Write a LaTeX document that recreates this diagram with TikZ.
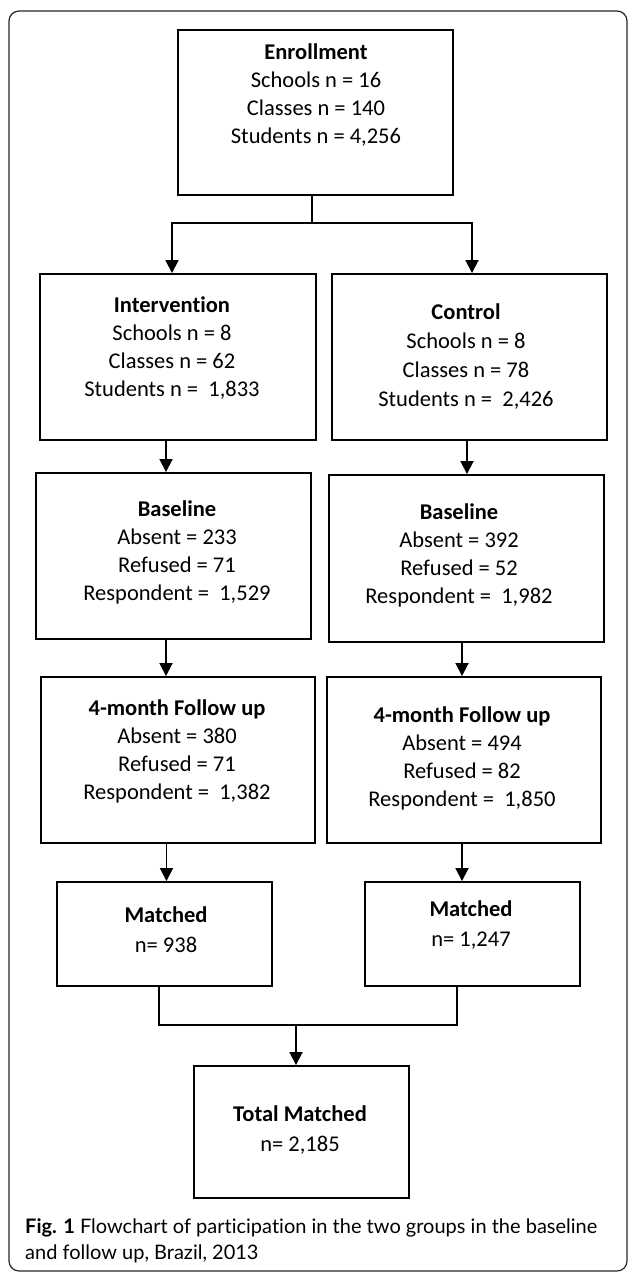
\documentclass[tikz,border=0pt]{standalone}
\usepackage{fontspec}
\setmainfont[Ligatures=NoCommon]{Carlito}
\newfontfamily\capfont[Ligatures=NoCommon]{Lato}
\usetikzlibrary{arrows.meta}
\begin{document}
\begin{tikzpicture}[x=1pt,y=-1pt,
  box/.style={draw, line width=1.9pt, inner sep=0pt},
  txt/.style={align=center, inner sep=0pt, font=\fontsize{22.5}{28}\selectfont},
  txtw/.style={align=center, inner sep=0pt, font=\fontsize{22.5}{29}\selectfont},
  txtm/.style={align=center, inner sep=0pt, font=\fontsize{22.5}{30}\selectfont},
  conn/.style={line width=1.8pt},
  arr/.style={line width=1.8pt, -{Triangle[width=13pt,length=13pt]}},
  captxt/.style={anchor=base west, inner sep=0pt, font=\capfont\fontsize{20}{26}\selectfont}]
\useasboundingbox (0,0) rectangle (630,1273);
% outer frame
\draw[line width=1.2pt, rounded corners=10pt, black!85] (9,11) rectangle (627,1271);
% boxes
\node[box, minimum width=275pt, minimum height=165pt] (enr) at (315.5,112.5) {};
\node[box, minimum width=276pt, minimum height=166pt] (int) at (178,357) {};
\node[box, minimum width=275pt, minimum height=166pt] (ctl) at (469.5,357) {};
\node[box, minimum width=275pt, minimum height=166pt] (bli) at (173.5,556) {};
\node[box, minimum width=275pt, minimum height=167pt] (blc) at (466.5,558.5) {};
\node[box, minimum width=274pt, minimum height=166pt] (fui) at (178,760) {};
\node[box, minimum width=274pt, minimum height=166pt] (fuc) at (464,760) {};
\node[box, minimum width=215pt, minimum height=104pt] (mti) at (164.5,934) {};
\node[box, minimum width=215pt, minimum height=104pt] (mtc) at (472.5,934) {};
\node[box, minimum width=215pt, minimum height=132pt] (tot) at (301.5,1132) {};
% texts
\node[txt] (enrT) at (316,95) {\textbf{Enrollment}\\Schools n = 16\\Classes n = 140\\Students n = 4,256};
\node[txt] (intT) at (172,348.5) {\textbf{Intervention}\\Schools n = 8\\Classes n = 62\\Students n =\ \ 1,833};
\node[txtw] (ctlT) at (466,356.5) {\textbf{Control}\\Schools n = 8\\Classes n = 78\\Students n =\ \ 2,426};
\node[txt] (bliT) at (177,552.5) {\textbf{Baseline}\\Absent = 233\\Refused = 71\\Respondent =\ \ 1,529};
\node[txt] (blcT) at (459,555) {\textbf{Baseline}\\Absent = 392\\Refused = 52\\Respondent =\ \ 1,982};
\node[txt] (fuiT) at (177,751.5) {\textbf{4-month Follow up}\\Absent = 380\\Refused = 71\\Respondent =\ \ 1,382};
\node[txt] (fucT) at (462,758.5) {\textbf{4-month Follow up}\\Absent = 494\\Refused = 82\\Respondent =\ \ 1,850};
\node[txtm] (mtiT) at (166,930) {\textbf{Matched}\\n= 938};
\node[txtm] (mtcT) at (471,925) {\textbf{Matched}\\n= 1,247};
\node[txtm] (totT) at (300,1130) {\textbf{Total Matched}\\n= 2,185};
% connector coordinates
\coordinate (j1) at (312,223);
\coordinate (jl) at (172,223);
\coordinate (jr) at (472,223);
\coordinate (aL1) at (166,0);
\coordinate (aR1) at (467,0);
\coordinate (aL2) at (166,0);
\coordinate (aR2) at (462,0);
\coordinate (aL3) at (166.5,0);
\coordinate (aR3) at (462,0);
\coordinate (bl) at (159,0);
\coordinate (br) at (457,0);
\coordinate (j2) at (296,1025);
% connectors
\draw[conn] (enr.south -| j1) -- (j1);
\draw[arr] (j1) -| (int.north -| jl);
\draw[arr] (j1) -| (ctl.north -| jr);
\draw[arr] (int.south -| aL1) -- (bli.north -| aL1);
\draw[arr] (ctl.south -| aR1) -- (blc.north -| aR1);
\draw[arr] (bli.south -| aL2) -- (fui.north -| aL2);
\draw[arr] (blc.south -| aR2) -- (fuc.north -| aR2);
\draw[arr] (fui.south -| aL3) -- (mti.north -| aL3);
\draw[arr] (fuc.south -| aR3) -- (mtc.north -| aR3);
\draw[conn] (mti.south -| bl) |- (j2);
\draw[conn] (mtc.south -| br) |- (j2);
\draw[arr] (j2) -- (tot.north -| j2);
% caption
\node[captxt] (cap1) at (25,1233) {\textbf{Fig. 1} Flowchart of participation in the two groups in the baseline};
\node[captxt] (cap2) at (25,1259) {and follow up, Brazil, 2013};
\end{tikzpicture}
\end{document}
